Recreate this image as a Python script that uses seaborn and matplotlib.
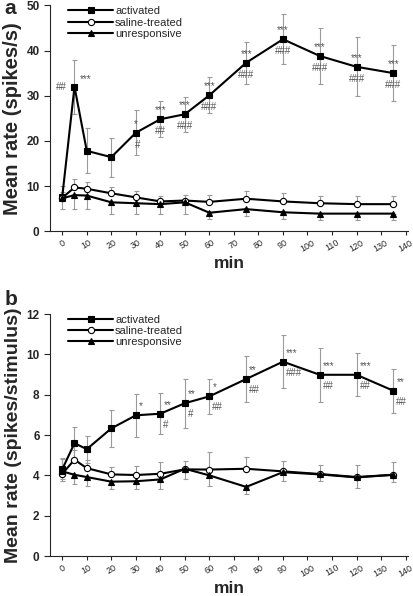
import pandas as pd
import matplotlib
matplotlib.use("Agg")
import matplotlib.pyplot as plt
import seaborn as sns

# time points (min)
times = [0, 5, 10, 20, 30, 40, 50, 60, 75, 90, 105, 120, 135]
xticks = list(range(0, 141, 10))
groups = ["activated", "saline-treated", "unresponsive"]

# panel a: spikes/s
a_act = [7.6, 32.0, 17.8, 16.4, 21.8, 24.8, 25.9, 30.1, 37.3, 42.5, 38.8, 36.4, 35.0]
a_act_err = [1.0, 6.0, 5.0, 4.3, 5.0, 4.0, 3.9, 4.0, 4.6, 5.5, 6.2, 6.5, 6.2]
a_sal = [7.4, 9.7, 9.4, 8.4, 7.5, 6.6, 6.8, 6.5, 7.2, 6.6, 6.2, 6.0, 6.0]
a_sal_err = [2.6, 1.9, 1.5, 1.45, 1.4, 1.3, 1.3, 1.5, 1.7, 1.8, 1.7, 1.8, 1.8]
a_unr = [7.3, 8.0, 7.9, 6.4, 6.2, 6.0, 6.4, 4.1, 4.9, 4.2, 3.9, 3.9, 3.9]
a_unr_err = [2.3, 3.1, 3.0, 2.5, 2.3, 2.1, 2.5, 1.4, 1.6, 1.4, 1.5, 1.3, 1.5]
a_star = ["", "***", "", "", "*", "***", "***", "***", "***", "***", "***", "***", "***"]
a_hash = ["", "##", "", "", "#", "##", "###", "###", "###", "###", "###", "###", "###"]

# panel b: spikes/stimulus
b_act = [4.3, 5.6, 5.3, 6.33, 6.98, 7.06, 7.58, 7.92, 8.78, 9.64, 8.99, 8.99, 8.2]
b_act_err = [0.5, 0.8, 0.67, 0.92, 1.06, 1.03, 1.22, 0.86, 1.13, 1.33, 1.33, 1.06, 1.1]
b_sal = [4.08, 4.78, 4.36, 4.05, 4.02, 4.08, 4.3, 4.29, 4.33, 4.2, 4.07, 3.92, 4.03]
b_sal_err = [0.8, 0.5, 0.4, 0.35, 0.43, 0.57, 0.4, 0.85, 0.57, 0.53, 0.47, 0.62, 0.62]
b_unr = [4.2, 4.03, 3.92, 3.69, 3.71, 3.8, 4.33, 4.0, 3.43, 4.16, 4.05, 3.9, 4.03]
b_unr_err = [0.5, 0.48, 0.44, 0.34, 0.36, 0.45, 0.5, 0.52, 0.33, 0.46, 0.33, 0.5, 0.36]
b_star = ["", "", "", "", "*", "**", "**", "*", "**", "***", "***", "***", "**"]
b_hash = ["", "", "", "", "", "#", "#", "##", "##", "###", "##", "##", "##"]

sns.set_style("ticks")
plt.rcParams["font.family"] = ["Liberation Sans", "DejaVu Sans"]

fig = plt.figure(figsize=(4.13, 5.96), dpi=100)
ax_a = fig.add_axes([0.121, 0.612, 0.867, 0.379])
ax_b = fig.add_axes([0.121, 0.067, 0.867, 0.406])

styles = {
    "activated": dict(marker="s", markerfacecolor="black"),
    "saline-treated": dict(marker="o", markerfacecolor="white"),
    "unresponsive": dict(marker="^", markerfacecolor="black"),
}


def draw_panel(ax, act, act_err, sal, sal_err, unr, unr_err):
    df = pd.DataFrame({
        "min": times * 3,
        "rate": act + sal + unr,
        "group": [g for g in groups for _ in times],
    })
    # error bars: activated both ways, saline upward, unresponsive downward
    ekw = dict(fmt="none", ecolor="#9a9a9a", elinewidth=0.8, capsize=1.8, capthick=0.8, zorder=1)
    ax.errorbar(times, act, yerr=act_err, **ekw)
    ax.errorbar(times, sal, yerr=[[0] * len(times), sal_err], **ekw)
    ax.errorbar(times, unr, yerr=[unr_err, [0] * len(times)], **ekw)
    for g in groups:
        sns.lineplot(data=df[df["group"] == g], x="min", y="rate", ax=ax, color="black",
                     linewidth=1.5, markersize=4.5, markeredgecolor="black",
                     markeredgewidth=0.8, label=g, zorder=3, **styles[g])
    sns.despine(ax=ax)
    ax.set_xlim(-5, 141)
    ax.set_xticks(xticks)
    ax.set_xticklabels([str(t) for t in xticks], rotation=30, ha="center", fontsize=6.5)
    ax.tick_params(axis="x", length=3, width=0.8, pad=2)
    ax.tick_params(axis="y", length=4, width=0.8, labelsize=8.5)
    for lab in ax.get_yticklabels():
        lab.set_fontweight("bold")
    ax.set_xlabel("min", fontsize=12.5, fontweight="bold", labelpad=2)
    ax.legend(loc="upper left", bbox_to_anchor=(0.03, 1.03), frameon=False, fontsize=8,
              handlelength=4.0, handletextpad=0.2, labelspacing=0.12, borderpad=0.2)


draw_panel(ax_a, a_act, a_act_err, a_sal, a_sal_err, a_unr, a_unr_err)
ax_a.set_ylim(0, 50)
ax_a.set_yticks([0, 10, 20, 30, 40, 50])
ax_a.set_ylabel("Mean rate (spikes/s)", fontsize=14.5, fontweight="bold", labelpad=3)

draw_panel(ax_b, b_act, b_act_err, b_sal, b_sal_err, b_unr, b_unr_err)
ax_b.set_ylim(0, 12)
ax_b.set_yticks([0, 2, 4, 6, 8, 10, 12])
ax_b.set_ylabel("Mean rate (spikes/stimulus)", fontsize=14, fontweight="bold", labelpad=3)

# significance marks
sig = dict(textcoords="offset pixels", fontsize=7, color="#555555", va="center")
for t, v, s, h in zip(times, a_act, a_star, a_hash):
    if t == 5:
        ax_a.annotate(s, (t, v), xytext=(11, 8), ha="center", **sig)
        ax_a.annotate(h, (t, v), xytext=(-13, 0), ha="center", **sig)
        continue
    if s:
        ax_a.annotate(s, (t, v), xytext=(0, 9), ha="center", **sig)
    if h:
        ax_a.annotate(h, (t, v), xytext=(2 if len(h) == 1 else 0, -12), ha="center", **sig)
for t, v, s, h in zip(times, b_act, b_star, b_hash):
    if s:
        ax_b.annotate(s, (t, v), xytext=(3, 9), ha="left", **sig)
    if h:
        ax_b.annotate(h, (t, v), xytext=(3, -11), ha="left", **sig)

fig.text(0.01, 0.985, "a", fontsize=15, fontweight="bold", va="center")
fig.text(0.01, 0.498, "b", fontsize=15, fontweight="bold", va="center")

fig.savefig("out.png", dpi=100)
